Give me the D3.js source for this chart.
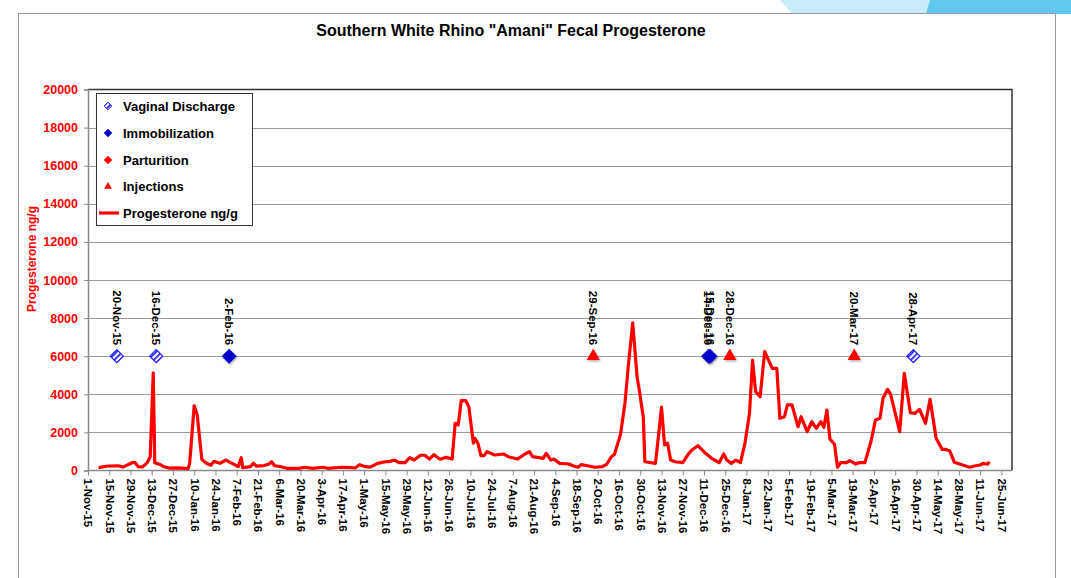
<!DOCTYPE html>
<html>
<head>
<meta charset="utf-8">
<script src="https://cdn.jsdelivr.net/npm/d3@7"></script>
<style>
  html, body { margin: 0; padding: 0; background: #fff; }
  svg { display: block; font-family: "Liberation Sans", Arial, sans-serif; }
</style>
</head>
<body>
<svg id="chart" width="1071" height="578"></svg>
<script>
// ---------- DATA ----------
const sampleDates = [
  "2015-11-08","2015-11-14","2015-11-21","2015-11-24","2015-11-30","2015-12-02","2015-12-04","2015-12-07","2015-12-10","2015-12-12",
  "2015-12-14","2015-12-15","2015-12-18","2015-12-21","2015-12-25","2015-12-30","2016-01-06","2016-01-07","2016-01-10","2016-01-12",
  "2016-01-15","2016-01-18","2016-01-21","2016-01-23","2016-01-27","2016-01-31","2016-02-03","2016-02-08","2016-02-10","2016-02-11",
  "2016-02-16","2016-02-18","2016-02-20","2016-02-25","2016-02-28","2016-03-01","2016-03-03","2016-03-07","2016-03-11","2016-03-19",
  "2016-03-23","2016-03-28","2016-04-04","2016-04-07","2016-04-16","2016-04-23","2016-04-25","2016-04-28","2016-05-02","2016-05-05",
  "2016-05-10","2016-05-14","2016-05-18","2016-05-21","2016-05-24","2016-05-28","2016-05-31","2016-06-03","2016-06-07","2016-06-10",
  "2016-06-13","2016-06-16","2016-06-20","2016-06-24","2016-06-28","2016-06-30","2016-07-02","2016-07-04","2016-07-07","2016-07-09",
  "2016-07-12","2016-07-13","2016-07-15","2016-07-17","2016-07-19","2016-07-21","2016-07-26","2016-08-01","2016-08-04","2016-08-10",
  "2016-08-15","2016-08-18","2016-08-20","2016-08-27","2016-08-29","2016-09-01","2016-09-03","2016-09-07","2016-09-13","2016-09-16",
  "2016-09-19","2016-09-21","2016-09-26","2016-09-30","2016-10-05","2016-10-08","2016-10-11","2016-10-13","2016-10-17","2016-10-20",
  "2016-10-22","2016-10-25","2016-10-28","2016-10-29","2016-11-01","2016-11-02","2016-11-09","2016-11-10","2016-11-13","2016-11-15",
  "2016-11-17","2016-11-19","2016-11-22","2016-11-27","2016-12-01","2016-12-03","2016-12-07","2016-12-12","2016-12-16","2016-12-21",
  "2016-12-24","2016-12-26","2016-12-29","2017-01-01","2017-01-04","2017-01-07","2017-01-10","2017-01-12","2017-01-14","2017-01-17",
  "2017-01-20","2017-01-25","2017-01-28","2017-01-30","2017-02-02","2017-02-04","2017-02-07","2017-02-11","2017-02-13","2017-02-17",
  "2017-02-20","2017-02-23","2017-02-26","2017-02-28","2017-03-02","2017-03-04","2017-03-07","2017-03-09","2017-03-11","2017-03-15",
  "2017-03-17","2017-03-21","2017-03-23","2017-03-27","2017-03-31","2017-04-03","2017-04-06","2017-04-08","2017-04-11","2017-04-13",
  "2017-04-19","2017-04-22","2017-04-26","2017-04-29","2017-05-02","2017-05-06","2017-05-09","2017-05-13","2017-05-17","2017-05-19",
  "2017-05-22","2017-05-25","2017-05-29","2017-06-04","2017-06-08","2017-06-11","2017-06-13","2017-06-16","2017-06-17"
];
const progesterone = [
  150,235,250,180,410,430,200,190,410,725,
  5130,410,330,200,120,140,100,380,3400,2910,
  585,380,280,480,380,550,410,200,670,150,
  200,380,230,260,330,460,250,200,115,115,
  170,115,170,115,170,150,130,305,200,180,
  375,445,480,550,410,410,670,550,800,800,
  600,830,590,690,600,2480,2390,3665,3665,3350,
  1430,1690,1430,780,780,990,815,865,725,600,
  865,990,725,640,900,550,600,375,340,235,
  170,305,235,170,200,340,725,850,1900,3600,
  5400,7750,4840,4400,2780,460,375,1075,3330,1340,
  1430,550,460,410,900,1075,1300,900,640,410,
  865,550,375,550,410,1430,3000,5800,4140,3875,
  6240,5365,5365,2740,2825,3440,3440,2300,2825,2040,
  2560,2215,2560,2270,3175,1655,1375,170,410,410,
  515,340,410,410,1510,2650,2740,3790,4260,4000,
  2040,5100,3035,2990,3210,2480,3740,1690,1110,1110,
  1025,430,325,170,250,290,375,330,460
];
const vaginalDischargeDates = ["2015-11-20","2015-12-16","2017-04-28"];
const immobilizationDates   = ["2016-02-02","2016-12-14","2016-12-15"];
const parturitionDates      = [];
const injectionDates        = ["2016-09-29","2016-12-28","2017-03-20"];
const eventLevel = 6000;

const xTickLabels = ["1-Nov-15","15-Nov-15","29-Nov-15","13-Dec-15","27-Dec-15","10-Jan-16","24-Jan-16","7-Feb-16","21-Feb-16",
  "6-Mar-16","20-Mar-16","3-Apr-16","17-Apr-16","1-May-16","15-May-16","29-May-16","12-Jun-16","26-Jun-16","10-Jul-16",
  "24-Jul-16","7-Aug-16","21-Aug-16","4-Sep-16","18-Sep-16","2-Oct-16","16-Oct-16","30-Oct-16","13-Nov-16","27-Nov-16",
  "11-Dec-16","25-Dec-16","8-Jan-17","22-Jan-17","5-Feb-17","19-Feb-17","5-Mar-17","19-Mar-17","2-Apr-17","16-Apr-17",
  "30-Apr-17","14-May-17","28-May-17","11-Jun-17","25-Jun-17"];
const yTicks = [0,2000,4000,6000,8000,10000,12000,14000,16000,18000,20000];
const xDomain = ["2015-11-01","2017-07-02"];

const titleText = 'Southern White Rhino "Amani" Fecal Progesterone';
const yTitle = "Progesterone ng/g";
const legendItems = ["Vaginal Discharge","Immobilization","Parturition","Injections","Progesterone ng/g"];

// ---------- SETUP ----------
const parseISO = d3.timeParse("%Y-%m-%d");
const parseTick = d3.timeParse("%d-%b-%y");
const fmtEvent = d3.timeFormat("%-d-%b-%y");

const svg = d3.select("#chart");
const pLeft = 88, pRight = 1012, pTop = 89.5, pBottom = 470.5;

const x = d3.scaleTime().domain(xDomain.map(parseISO)).range([pLeft, pRight]);
const y = d3.scaleLinear().domain([0, 20000]).range([pBottom, pTop]);

const defs = svg.append("defs");
const pat = defs.append("pattern").attr("id","hatch").attr("patternUnits","userSpaceOnUse")
  .attr("width",4).attr("height",4).attr("patternTransform","rotate(45)");
pat.append("rect").attr("width",4).attr("height",4).attr("fill","#fff");
pat.append("rect").attr("width",1.7).attr("height",4).attr("fill","#1a1aff");
const sh = defs.append("filter").attr("id","shadow").attr("x","-50%").attr("y","-50%").attr("width","200%").attr("height","200%");
sh.append("feDropShadow").attr("dx",1).attr("dy",1.5).attr("stdDeviation",1.2).attr("flood-color","#000").attr("flood-opacity",0.3);

// slide decoration + frame
svg.append("path").attr("d","M780,0 L1071,0 L1071,14 L792,14 Z").attr("fill","#c9ecf8");
svg.append("path").attr("d","M930,0 L1071,0 L1071,14 L926,14 Z").attr("fill","#5ec8ee");
svg.append("rect").attr("x",18.5).attr("y",13.5).attr("width",1037).attr("height",600)
  .attr("fill","#fff").attr("stroke","#9a9a9a").attr("stroke-width",1);

// title
svg.append("text").attr("x",511).attr("y",35.5).attr("text-anchor","middle")
  .attr("font-size","16px").attr("font-weight","bold").attr("fill","#000").text(titleText);

// gridlines
svg.append("g").selectAll("line").data(yTicks.filter(d => d > 0 && d < 20000)).join("line")
  .attr("x1",pLeft).attr("x2",pRight).attr("y1",d => Math.round(y(d))+0.5).attr("y2",d => Math.round(y(d))+0.5)
  .attr("stroke","#9a9a9a").attr("stroke-width",1);

// plot border (top, right)
svg.append("path").attr("d",`M${pLeft},${pTop} L${pRight},${pTop} L${pRight},${pBottom}`)
  .attr("fill","none").attr("stroke","#333").attr("stroke-width",1.5);

// y axis
const yAxis = svg.append("g").attr("transform",`translate(${pLeft},0)`)
  .call(d3.axisLeft(y).tickValues(yTicks).tickSize(4).tickPadding(6).tickFormat(d3.format("d")));
yAxis.select(".domain").attr("stroke","#8a8a8a").attr("stroke-width",1.5);
yAxis.selectAll(".tick line").attr("stroke","#8a8a8a");
yAxis.selectAll("text").attr("fill","#ff0000").attr("font-size","12.5px").attr("font-weight","bold")
  .attr("font-family","Liberation Sans, Arial, sans-serif");

// y title
svg.append("text").attr("transform","translate(36,259) rotate(-90)").attr("text-anchor","middle")
  .attr("font-size","12px").attr("font-weight","bold").attr("fill","#ff0000").text(yTitle);

// x axis
const xAxis = svg.append("g").attr("transform",`translate(0,${pBottom})`)
  .call(d3.axisBottom(x).tickValues(xTickLabels.map(parseTick)).tickSize(5).tickFormat(fmtEvent));
xAxis.select(".domain").attr("stroke","#8a8a8a").attr("stroke-width",1.5).attr("d",`M${pLeft},0H${pRight}`);
xAxis.selectAll(".tick line").attr("stroke","#8a8a8a");
xAxis.selectAll("text")
  .attr("font-size","11.5px").attr("font-weight","bold").attr("fill","#000")
  .attr("font-family","Liberation Sans, Arial, sans-serif")
  .attr("text-anchor","start").attr("transform","rotate(90)")
  .attr("x",8).attr("y",0).attr("dy","0.36em");

// progesterone line
const series = sampleDates.map((d,i) => ({date: parseISO(d), value: progesterone[i]}));
svg.append("path").datum(series)
  .attr("fill","none").attr("stroke","#ff0000").attr("stroke-width",3.2).attr("stroke-linejoin","round")
  .attr("d", d3.line().x(d => x(d.date)).y(d => y(d.value)));

// event markers
const diamond = r => `M0,${-r}L${r},0L0,${r}L${-r},0Z`;
const yEv = y(eventLevel);
function eventLabel(dateStr){
  svg.append("text").attr("transform",`translate(${x(parseISO(dateStr))},${yEv-11}) rotate(90)`)
    .attr("text-anchor","end").attr("dy","0.36em")
    .attr("font-size","11.5px").attr("font-weight","bold").attr("fill","#000")
    .text(fmtEvent(parseISO(dateStr)));
}
[...vaginalDischargeDates, ...immobilizationDates, ...parturitionDates, ...injectionDates].forEach(eventLabel);

svg.append("g").selectAll("path").data(parturitionDates).join("path")
  .attr("transform",d => `translate(${x(parseISO(d))},${yEv})`).attr("d",diamond(7.5))
  .attr("fill","#ff0000").attr("filter","url(#shadow)");
svg.append("g").selectAll("path").data(vaginalDischargeDates).join("path")
  .attr("transform",d => `translate(${x(parseISO(d))},${yEv})`).attr("d",diamond(6.5))
  .attr("fill","url(#hatch)").attr("stroke","#1a1aff").attr("stroke-width",1.2);
svg.append("g").selectAll("path").data(immobilizationDates).join("path")
  .attr("transform",d => `translate(${x(parseISO(d))},${yEv})`).attr("d",diamond(7.5))
  .attr("fill","#0000cc").attr("filter","url(#shadow)");
svg.append("g").selectAll("path").data(injectionDates).join("path")
  .attr("transform",d => `translate(${x(parseISO(d))},${yEv})`)
  .attr("d",d3.symbol(d3.symbolTriangle, 75)())
  .attr("fill","#ff0000").attr("filter","url(#shadow)");

// legend
const lg = svg.append("g");
lg.append("rect").attr("x",96.5).attr("y",93.5).attr("width",156).attr("height",132)
  .attr("fill","#fff").attr("stroke","#333").attr("stroke-width",1);
const rowY = [106, 133, 160, 186.5, 213];
lg.selectAll("text").data(legendItems).join("text")
  .attr("x",123).attr("y",(d,i) => rowY[i]).attr("dy","0.36em")
  .attr("font-size","13px").attr("font-weight","bold").attr("fill","#000").text(d => d);
lg.append("path").attr("transform",`translate(108,${rowY[0]})`).attr("d",diamond(3.8))
  .attr("fill","url(#hatch)").attr("stroke","#1a1aff").attr("stroke-width",1);
lg.append("path").attr("transform",`translate(108,${rowY[1]})`).attr("d",diamond(4.3)).attr("fill","#0000cc");
lg.append("path").attr("transform",`translate(108,${rowY[2]})`).attr("d",diamond(4.3)).attr("fill","#ff0000");
lg.append("path").attr("transform",`translate(108,${rowY[3]})`).attr("d",d3.symbol(d3.symbolTriangle, 26)()).attr("fill","#ff0000");
lg.append("line").attr("x1",99).attr("x2",119).attr("y1",rowY[4]).attr("y2",rowY[4])
  .attr("stroke","#ff0000").attr("stroke-width",3.2);
</script>
</body>
</html>
